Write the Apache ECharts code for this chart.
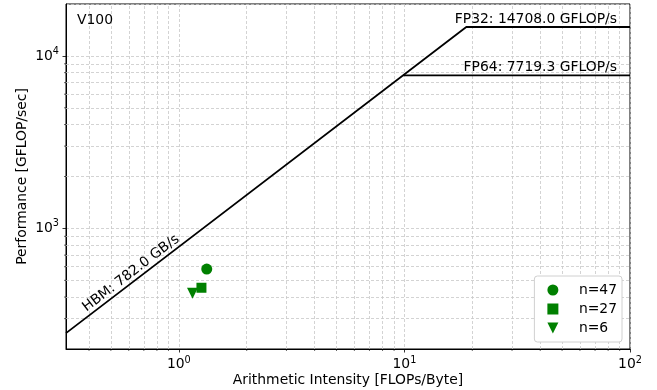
<!DOCTYPE html>
<html>
<head>
<meta charset="utf-8">
<script src="https://cdn.jsdelivr.net/npm/echarts@6/dist/echarts.min.js"></script>
<style>
  html, body { margin: 0; padding: 0; background: #fff; }
  #chart { width: 657px; height: 390px; }
</style>
</head>
<body>
<div id="chart"></div>
<script>
const deviceName = 'V100';
const memBandwidth = 782.0;   // GB/s
const peakFP32 = 14708.0;     // GFLOP/s
const peakFP64 = 7719.3;      // GFLOP/s
const pointNames = ['n=47', 'n=27', 'n=6'];
const pointAI = [1.33, 1.26, 1.15];
const pointPerf = [581, 453, 421];
const pointSymbols = ['circle', 'path://M0,0 L10,0 L10,10 L0,10 Z', 'path://M0,0 L10,0 L5,10 Z'];
const pointSizes = [11, 10, 11];
const xMinorGrid = [0.4, 0.5, 0.6, 0.7, 0.8, 0.9, 2, 3, 4, 5, 6, 7, 8, 9, 20, 30, 40, 50, 60, 70, 80, 90];
const yMinorGrid = [300, 400, 500, 600, 700, 800, 900, 2000, 3000, 4000, 5000, 6000, 7000, 8000, 9000];

const FONT = 'DejaVu Sans';
const FS = 13.9;
const gridStyle = { color: '#c8c8c8', width: 0.8, type: [3, 2] };

const powLabel = (v) => {
  const e = Math.log10(v);
  const r = Math.round(e);
  if (Math.abs(e - r) > 1e-6) return '';
  return '{b|10}{s|' + r + '}';
};
const richPow = {
  b: { fontFamily: FONT, fontSize: FS, color: '#000' },
  s: { fontFamily: FONT, fontSize: 9.7, color: '#000', verticalAlign: 'top', padding: [0, 0, 9, 0] }
};

const ridge32 = peakFP32 / memBandwidth;
const ridge64 = peakFP64 / memBandwidth;
const xMin = Math.pow(10, -0.5);
const xMax = 100;
const yMin = 200;
const yMax = 20000;
const hbmLabelX = 0.6;

const initChart = () => {
  const chart = echarts.init(document.getElementById('chart'));

  const roofSeries = [
    {
      name: 'fp32',
      type: 'line',
      data: [[xMin, memBandwidth * xMin], [ridge32, peakFP32], [xMax, peakFP32]],
      symbol: 'none',
      lineStyle: { color: '#000', width: 1.8 },
      z: 3,
      silent: true,
      markPoint: {
        symbol: 'circle',
        symbolSize: 0,
        silent: true,
        z: 6,
        data: [
          {
            coord: [xMax, peakFP32],
            label: {
              show: true, position: 'left', distance: 13, offset: [0, -8],
              formatter: 'FP32: ' + peakFP32.toFixed(1) + ' GFLOP/s',
              fontFamily: FONT, fontSize: FS, color: '#000'
            }
          },
          {
            coord: [hbmLabelX, memBandwidth * hbmLabelX],
            label: {
              show: true, position: 'inside', rotate: 37.4, offset: [9, -8],
              formatter: 'HBM: ' + memBandwidth.toFixed(1) + ' GB/s',
              fontFamily: FONT, fontSize: FS, color: '#000'
            }
          }
        ]
      }
    },
    {
      name: 'fp64',
      type: 'line',
      data: [[ridge64, peakFP64], [xMax, peakFP64]],
      symbol: 'none',
      lineStyle: { color: '#000', width: 1.8 },
      z: 3,
      silent: true,
      markPoint: {
        symbol: 'circle',
        symbolSize: 0,
        silent: true,
        z: 6,
        data: [
          {
            coord: [xMax, peakFP64],
            label: {
              show: true, position: 'left', distance: 13, offset: [0, -8],
              formatter: 'FP64: ' + peakFP64.toFixed(1) + ' GFLOP/s',
              fontFamily: FONT, fontSize: FS, color: '#000'
            }
          }
        ]
      }
    }
  ];

  const minorGridSeries = {
    name: 'minor-grid',
    type: 'line',
    data: [],
    silent: true,
    z: 1,
    markLine: {
      silent: true,
      z: 1,
      symbol: 'none',
      label: { show: false },
      lineStyle: gridStyle,
      animation: false,
      data: xMinorGrid.map(v => ({ xAxis: v })).concat(yMinorGrid.map(v => ({ yAxis: v })))
    }
  };

  const pointSeries = pointNames.map((name, i) => ({
    name: name,
    type: 'scatter',
    data: [[pointAI[i], pointPerf[i]]],
    symbol: pointSymbols[i],
    symbolSize: pointSizes[i],
    symbolKeepAspect: true,
    itemStyle: { color: '#008000', opacity: 1 },
    z: 4
  }));

  chart.setOption({
    animation: false,
    textStyle: { fontFamily: FONT },
    title: {
      text: deviceName,
      left: 72, top: 8,
      textStyle: { fontFamily: FONT, fontSize: FS, fontWeight: 'normal', color: '#000' }
    },
    grid: {
      left: 66, right: 27, top: 4, bottom: 41,
      outerBoundsMode: 'none',
      show: true, borderColor: '#000', borderWidth: 1, backgroundColor: '#fff'
    },
    legend: {
      orient: 'vertical',
      right: 35, bottom: 48,
      data: pointNames,
      itemWidth: 42, itemHeight: 11, itemGap: 5,
      padding: [7, 5, 7, 13],
      borderColor: '#d0d0d0', borderWidth: 1, borderRadius: 3,
      backgroundColor: '#ffffff',
      textStyle: { fontFamily: FONT, fontSize: FS, color: '#000' }
    },
    xAxis: {
      type: 'log',
      logBase: 10,
      min: xMin, max: xMax,
      name: 'Arithmetic Intensity [FLOPs/Byte]',
      nameLocation: 'middle', nameGap: 24,
      nameMoveOverlap: false,
      nameTextStyle: { fontFamily: FONT, fontSize: FS, color: '#000' },
      axisLine: { lineStyle: { color: '#000' } },
      axisTick: { inside: false, length: 3.5, lineStyle: { color: '#000', width: 0.8 } },
      axisLabel: { formatter: powLabel, rich: richPow, margin: 6, showMinLabel: false },
      splitLine: { show: true, lineStyle: gridStyle }
    },
    yAxis: {
      type: 'log',
      logBase: 10,
      min: yMin, max: yMax,
      name: 'Performance [GFLOP/sec]',
      nameLocation: 'middle', nameGap: 37,
      nameMoveOverlap: false,
      nameTextStyle: { fontFamily: FONT, fontSize: FS, color: '#000' },
      axisLine: { lineStyle: { color: '#000' } },
      axisTick: { inside: false, length: 3.5, lineStyle: { color: '#000', width: 0.8 } },
      axisLabel: { formatter: powLabel, rich: richPow, margin: 7, showMinLabel: false, showMaxLabel: false },
      splitLine: { show: true, lineStyle: gridStyle }
    },
    series: [minorGridSeries].concat(roofSeries, pointSeries)
  });

  // minor ticks at the 2..9 multiples, placed through the axis scales
  const minorTicks = [];
  xMinorGrid.forEach(v => {
    const p = chart.convertToPixel({ gridIndex: 0 }, [v, yMin]);
    minorTicks.push({
      type: 'line', silent: true,
      shape: { x1: p[0], y1: p[1], x2: p[0], y2: p[1] + 2 },
      style: { stroke: '#000', lineWidth: 0.6 }
    });
  });
  yMinorGrid.forEach(v => {
    const p = chart.convertToPixel({ gridIndex: 0 }, [xMin, v]);
    minorTicks.push({
      type: 'line', silent: true,
      shape: { x1: p[0], y1: p[1], x2: p[0] - 2, y2: p[1] },
      style: { stroke: '#000', lineWidth: 0.6 }
    });
  });
  chart.setOption({ graphic: minorTicks });
};

window.addEventListener('load', () => {
  initChart();
});
</script>
</body>
</html>
